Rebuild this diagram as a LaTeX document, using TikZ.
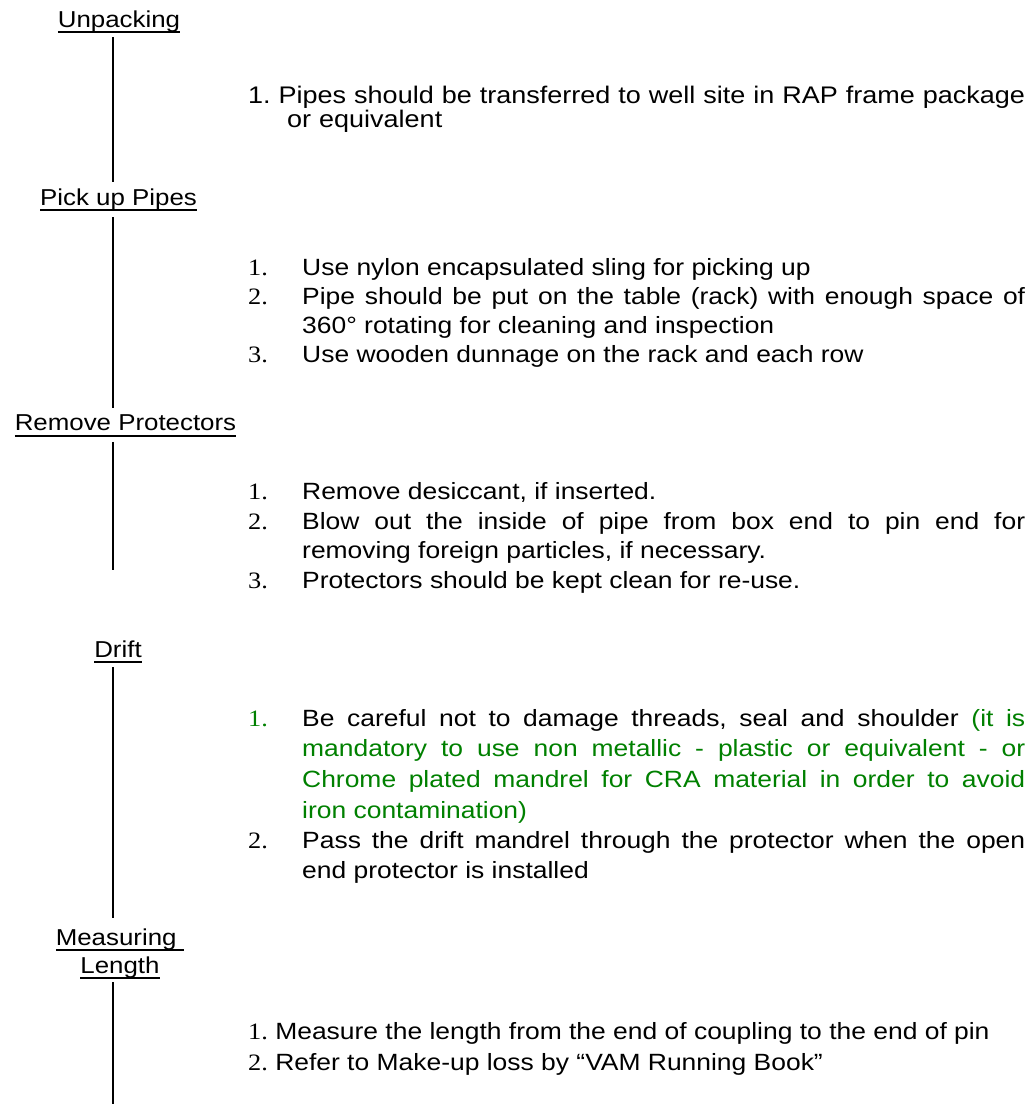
\documentclass[tikz,border=0pt]{standalone}
\usepackage{fontspec}
\setmainfont{Liberation Sans}[FakeStretch=1.125, WordSpace={1,1.5,0}]
\newfontfamily\numfont{Liberation Serif}[FakeStretch=1.12]
\usepackage{tikz}
\usetikzlibrary{positioning, calc}
\definecolor{notegreen}{RGB}{0,128,0}
\newcommand{\stepul}[1]{\leavevmode\setbox0\hbox{#1}\rlap{\rule[-5.9pt]{\wd0}{1.8pt}}\box0}
\hyphenpenalty=10000
\exhyphenpenalty=10000
\tolerance=9999
\frenchspacing

\begin{document}
\begin{tikzpicture}[x=1pt, y=-1pt,
    stage/.style={inner sep=0pt, anchor=base, font=\fontsize{23}{28}\selectfont},
    num/.style={inner sep=0pt, anchor=base west, font=\numfont\fontsize{23.5}{29}\selectfont},
    note/.style={inner sep=0pt, anchor=base west, text width=723pt, align=justify, font=\fontsize{23.5}{29}\selectfont},
    spine/.style={line width=2pt}]
    \useasboundingbox (0,0) rectangle (1033,1104);
    \coordinate (spinex) at (112.5,0);

    % Stages
    \node[stage] (unpack) at (119,27.3) {\stepul{Unpacking}};
    \node[stage] (pick) at (118.5,205) {\stepul{Pick up Pipes}};
    \node[stage] (remove) at (125.5,430.7) {\stepul{Remove Protectors}};
    \node[stage] (drift) at (118,657) {\stepul{Drift}};
    \node[stage, text width=200pt, align=center] (measure) at (120,945) {\stepul{Measuring\ }\\\stepul{Length}};

    % Spine between stages
    \draw[spine, shorten <=4pt, shorten >=6pt] (unpack.south -| spinex) -- (pick.north -| spinex);
    \draw[spine, shorten <=6pt, shorten >=7pt] (pick.south -| spinex) -- (remove.north -| spinex);
    \coordinate (removeend) at (112.5,570);
    \draw[spine, shorten <=5pt] (remove.south -| spinex) -- (removeend);
    \draw[spine, shorten <=4pt, shorten >=10pt] (drift.south -| spinex) -- (measure.north -| spinex);
    \coordinate (measureend) at (112.5,1104);
    \draw[spine, shorten <=3pt] (measure.south -| spinex) -- (measureend);

    % Unpacking
    \node[inner sep=0pt, anchor=base west, text width=785pt, align=left, font=\fontsize{24}{24}\selectfont] (unpack1) at (248,103)
        {1. Pipes should be transferred to well site in RAP frame package\\\hspace*{39pt}or equivalent};

    % Pick up Pipes
    \foreach \y/\n in {275/1, 304/2, 362/3} {
        \node[num] (pickn\n) at (248,\y) {\n.};
    }
    \node[note] (pick1) at (302,275) {Use nylon encapsulated sling for picking up};
    \node[note] (pick2) at (302,304) {Pipe should be put on the table (rack) with enough space of 360° rotating for cleaning and inspection};
    \node[note] (pick3) at (302,362) {Use wooden dunnage on the rack and each row};

    % Remove Protectors
    \foreach \y/\n in {499/1, 529/2, 588/3} {
        \node[num] (removen\n) at (248,\y) {\n.};
    }
    \node[note] (remove1) at (302,499) {Remove desiccant, if inserted.};
    \node[note] (remove2) at (302,529) {Blow out the inside of pipe from box end to pin end for removing foreign particles, if necessary.};
    \node[note] (remove3) at (302,588) {Protectors should be kept clean for re-use.};

    % Drift
    \node[num, text=notegreen] (driftn1) at (248,726) {1.};
    \node[num] (driftn2) at (248,848) {2.};
    \node[note, font=\fontsize{23.5}{30.7}\selectfont] (drift1) at (302,726)
        {Be careful not to damage threads, seal and shoulder \textcolor{notegreen}{(it is mandatory to use non metallic - plastic or equivalent - or Chrome plated mandrel for CRA material in order to avoid iron contamination)}};
    \node[note, font=\fontsize{23.5}{30.7}\selectfont] (drift2) at (302,848)
        {Pass the drift mandrel through the protector when the open end protector is installed};

    % Measuring Length
    \node[inner sep=0pt, anchor=base west, font=\fontsize{23.5}{29}\selectfont] (measure1) at (248,1039)
        {{\numfont 1.} Measure the length from the end of coupling to the end of pin};
    \node[inner sep=0pt, anchor=base west, font=\fontsize{23.5}{29}\selectfont] (measure2) at (248,1070)
        {{\numfont 2.} Refer to Make-up loss by “VAM Running Book”};
\end{tikzpicture}
\end{document}
